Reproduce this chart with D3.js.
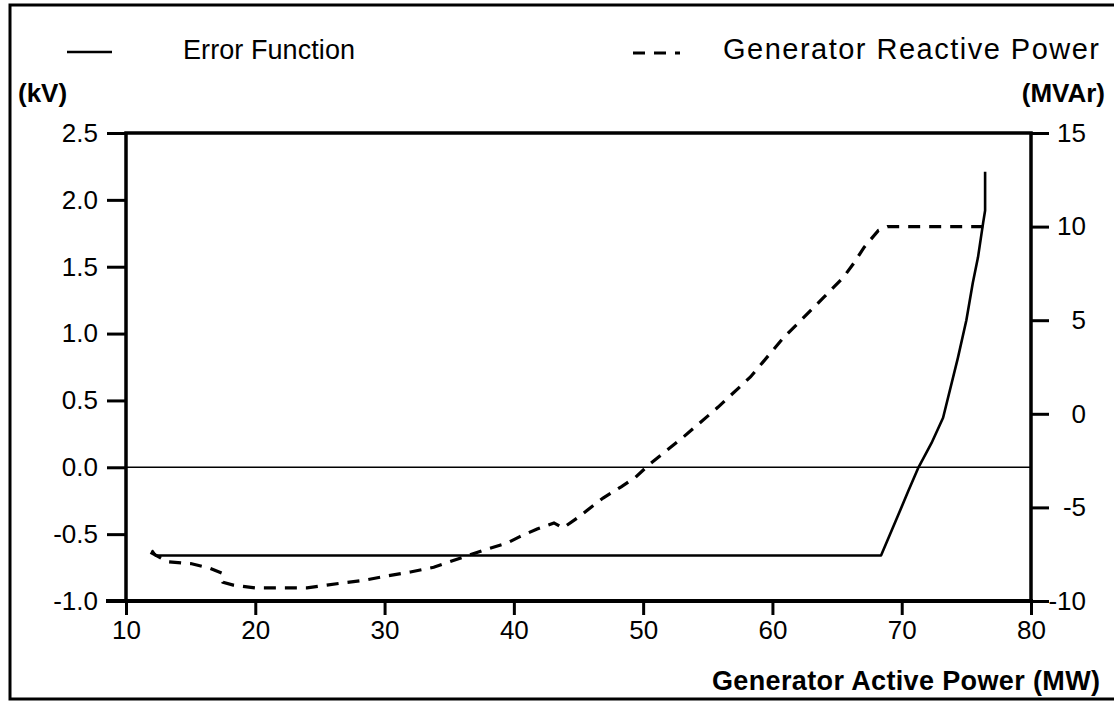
<!DOCTYPE html>
<html>
<head>
<meta charset="utf-8">
<script src="https://cdn.jsdelivr.net/npm/d3@7"></script>
<style>
  html, body { margin: 0; padding: 0; background: #fff; }
  svg { display: block; }
  text { font-family: "Liberation Sans", Arial, Helvetica, sans-serif; fill: #000; }
</style>
</head>
<body>
<svg id="chart" width="1114" height="703"></svg>
<script>
// ---- Data ----
// Error Function (kV) vs Generator Active Power (MW)
const errorMW = [12.0, 12.3, 68.4, 69.5, 70.5, 71.3, 72.3, 73.2, 74.35, 75.0, 75.5, 75.9, 76.3, 76.45, 76.45];
const errorKV = [-0.62, -0.66, -0.66, -0.41, -0.18, 0.0, 0.18, 0.37, 0.82, 1.10, 1.38, 1.57, 1.83, 1.92, 2.21];

// Generator Reactive Power (MVAr) vs Generator Active Power (MW)
const reactiveMW = [11.9, 13.2, 15.0, 16.5, 17.4, 17.5, 18.3, 20.0, 24.0, 26.6, 28.4, 29.9, 32.0, 33.8, 35.9, 37.6, 39.5, 40.5, 41.8, 43.1, 43.8, 44.9, 45.9, 46.9, 48.3, 49.4, 50.4, 53.1, 55.8, 58.3, 60.9, 62.0, 64.0, 64.5, 65.5, 66.3, 67.1, 68.2, 68.9, 76.4];
const reactiveMVAr = [-7.4, -7.9, -8.0, -8.25, -8.5, -9.0, -9.15, -9.3, -9.3, -9.05, -8.9, -8.7, -8.45, -8.2, -7.7, -7.3, -6.9, -6.55, -6.15, -5.83, -6.1, -5.57, -5.03, -4.5, -3.9, -3.4, -2.75, -1.25, 0.36, 1.97, 4.1, 4.85, 6.24, 6.6, 7.3, 8.05, 8.9, 9.8, 10.0, 10.0];

// Ticks
const xTicks = [10, 20, 30, 40, 50, 60, 70, 80];
const xTickLabels = ["10", "20", "30", "40", "50", "60", "70", "80"];
const leftTicks = [-1.0, -0.5, 0.0, 0.5, 1.0, 1.5, 2.0, 2.5];
const leftTickLabels = ["-1.0", "-0.5", "0.0", "0.5", "1.0", "1.5", "2.0", "2.5"];
const rightTicks = [-10, -5, 0, 5, 10, 15];
const rightTickLabels = ["-10", "-5", "0", "5", "10", "15"];

const seriesNames = ["Error Function", "Generator Reactive Power"];
const leftUnit = "(kV)";
const rightUnit = "(MVAr)";
const xTitle = "Generator Active Power (MW)";

// ---- Layout ----
const svg = d3.select("#chart");
const L = 126, R = 1031, T = 133, B = 601;

const x = d3.scaleLinear().domain([10, 80]).range([L, R]);
const yL = d3.scaleLinear().domain([-1.0, 2.5]).range([B, T]);
const yR = d3.scaleLinear().domain([-10, 15]).range([B, T]);

// Outer border (left, top, bottom)
svg.append("path")
  .attr("d", `M1114,5 L10,5 L10,699 L1114,699`)
  .attr("fill", "none").attr("stroke", "#000").attr("stroke-width", 3);

// Zero line
svg.append("line")
  .attr("x1", L).attr("x2", R).attr("y1", yL(0)).attr("y2", yL(0))
  .attr("stroke", "#000").attr("stroke-width", 1.6);

// Axes
function styleAxis(g) {
  g.select(".domain").remove();
  g.selectAll(".tick line").attr("stroke", "#000").attr("stroke-width", 3);
  g.selectAll(".tick text").attr("font-size", 26).attr("fill", "#000")
    .attr("font-family", "'Liberation Sans', Arial, Helvetica, sans-serif");
}

const gx = svg.append("g").attr("transform", `translate(0,${B})`)
  .call(d3.axisBottom(x).tickValues(xTicks).tickFormat((d, i) => xTickLabels[i]).tickSize(14).tickSizeOuter(0).tickPadding(6));
styleAxis(gx);

const gl = svg.append("g").attr("transform", `translate(${L},0)`)
  .call(d3.axisLeft(yL).tickValues(leftTicks).tickFormat((d, i) => leftTickLabels[i]).tickSize(19).tickSizeOuter(0).tickPadding(9));
styleAxis(gl);

const gr = svg.append("g").attr("transform", `translate(${R},0)`)
  .call(d3.axisRight(yR).tickValues(rightTicks).tickFormat((d, i) => rightTickLabels[i]).tickSize(18).tickSizeOuter(0));
styleAxis(gr);
gr.selectAll(".tick text").attr("text-anchor", "end").attr("x", 55);

// Frame lines (thick)
svg.append("path")
  .attr("d", `M${L},${B} L${L},${T} L${R},${T} L${R},${B}`)
  .attr("fill", "none").attr("stroke", "#000").attr("stroke-width", 3.5);
svg.append("line")
  .attr("x1", L - 20).attr("x2", R + 2).attr("y1", B).attr("y2", B)
  .attr("stroke", "#000").attr("stroke-width", 4);

// Lines
const errData = errorMW.map((d, i) => [d, errorKV[i]]);
const reaData = reactiveMW.map((d, i) => [d, reactiveMVAr[i]]);

svg.append("path")
  .datum(errData)
  .attr("d", d3.line().x(d => x(d[0])).y(d => yL(d[1])))
  .attr("fill", "none").attr("stroke", "#000").attr("stroke-width", 2.6)
  .attr("stroke-linejoin", "round");

svg.append("path")
  .datum(reaData)
  .attr("d", d3.line().x(d => x(d[0])).y(d => yR(d[1])))
  .attr("fill", "none").attr("stroke", "#000").attr("stroke-width", 3.2)
  .attr("stroke-dasharray", "12,9");

// Legend
svg.append("line").attr("x1", 67).attr("x2", 112).attr("y1", 52).attr("y2", 52)
  .attr("stroke", "#000").attr("stroke-width", 2.6);
svg.append("text").attr("x", 183).attr("y", 59).attr("font-size", 27)
  .attr("textLength", 172).attr("lengthAdjust", "spacing").text(seriesNames[0]);
svg.append("line").attr("x1", 633).attr("x2", 680).attr("y1", 53).attr("y2", 53)
  .attr("stroke", "#000").attr("stroke-width", 3.2).attr("stroke-dasharray", "12,9");
svg.append("text").attr("x", 723).attr("y", 59).attr("font-size", 29)
  .attr("textLength", 376).attr("lengthAdjust", "spacing").text(seriesNames[1]);

// Units
svg.append("text").attr("x", 18).attr("y", 102).attr("font-size", 26).attr("font-weight", "bold").text(leftUnit);
svg.append("text").attr("x", 1105).attr("y", 102).attr("font-size", 26).attr("font-weight", "bold")
  .attr("text-anchor", "end").text(rightUnit);

// X title
svg.append("text").attr("x", 712).attr("y", 690).attr("font-size", 27).attr("font-weight", "bold")
  .attr("textLength", 388).attr("lengthAdjust", "spacing").text(xTitle);
</script>
</body>
</html>
